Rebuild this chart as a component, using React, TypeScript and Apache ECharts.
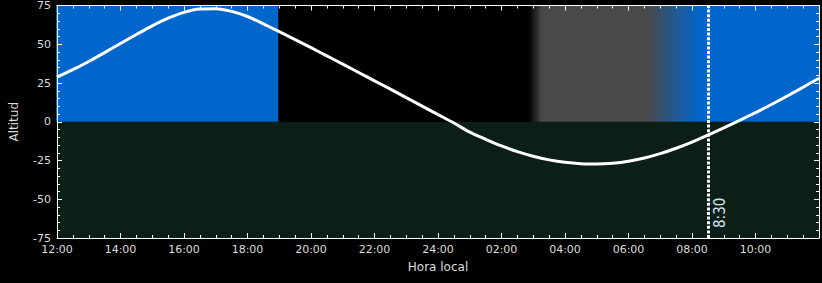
import React, { useEffect, useRef } from "react";
import * as echarts from "echarts";

// Hours elapsed since 12:00 (local time)
const hours = [
  0, 0.5, 1, 1.5, 2, 2.5, 3, 3.5, 4, 4.5, 5, 5.5, 6, 6.5, 7, 7.5, 8, 8.5, 9, 9.5,
  10, 10.5, 11, 11.5, 12, 12.5, 13, 13.5, 14, 14.5, 15, 15.5, 16, 16.5, 17, 17.5,
  18, 18.5, 19, 19.5, 20, 20.5, 21, 21.5, 22, 22.5, 23, 23.5, 24,
];
// Altitude (degrees)
const altitude = [
  28.8, 33.6, 38.9, 44.6, 50.5, 56.3, 61.9, 66.8, 70.6, 72.7, 72.9, 71.2, 67.9,
  63.2, 58.1, 53.0, 47.8, 42.5, 37.2, 31.8, 26.4, 21.0, 15.6, 10.1, 4.6, -0.8,
  -6.7, -11.3, -15.6, -19.3, -22.3, -24.6, -26.2, -27.1, -27.3, -26.8, -25.5,
  -23.4, -20.6, -17.1, -13.1, -8.7, -4.0, 0.9, 5.9, 11.1, 16.6, 22.3, 28.1,
];
const xTickLabels = [
  "12:00", "14:00", "16:00", "18:00", "20:00", "22:00", "24:00",
  "02:00", "04:00", "06:00", "08:00", "10:00",
];
// Background bands (hours since 12:00, altitude range)
const bandStart = [0, 0, 7, 14.9, 15.27, 18.6, 20.25];
const bandEnd = [24, 7, 14.9, 15.27, 18.6, 20.25, 24];
const bandLow = [-75, 0, 0, 0, 0, 0, 0];
const bandHigh = [0, 75, 75, 75, 75, 75, 75];
const bandKind = ["ground", "day", "night", "nightToTwilight", "twilight", "twilightToDay", "day"];
// Current time marker
const markerHour = 20.5;
const markerLabel = "8:30";

const BLUE = "#0066cc";
const GRAY = "#494949";
const kindFill = (kind: string): any => {
  switch (kind) {
    case "ground":
      return "#0b1f16";
    case "day":
      return BLUE;
    case "night":
      return "#000000";
    case "twilight":
      return GRAY;
    case "nightToTwilight":
      return new echarts.graphic.LinearGradient(0, 0, 1, 0, [
        { offset: 0, color: "#000000" },
        { offset: 1, color: GRAY },
      ]);
    case "twilightToDay":
      return new echarts.graphic.LinearGradient(0, 0, 1, 0, [
        { offset: 0, color: GRAY },
        { offset: 1, color: BLUE },
      ]);
  }
  return "#000";
};

export default function App() {
  const ref = useRef<HTMLDivElement>(null);
  useEffect(() => {
    if (!ref.current) return;
    const chart = echarts.init(ref.current, null, { renderer: "svg" });
    const textColor = "#dcdcdc";
    const font = "DejaVu Sans";
    const axisCommon = {
      type: "value" as const,
      z: 10,
      splitLine: { show: false },
      axisLine: { show: true, onZero: false, lineStyle: { color: "#ffffff", width: 1 } },
      axisTick: { show: true, inside: true, length: 5, lineStyle: { color: "#ffffff" } },
    };
    const bandData = bandStart.map((s, i) => [s, bandEnd[i], bandLow[i], bandHigh[i]]);
    chart.setOption({
      animation: false,
      backgroundColor: "#000000",
      grid: { left: 55, right: 3, top: 3, bottom: 45, containLabel: false },
      xAxis: [
        {
          ...axisCommon,
          position: "bottom",
          min: 0,
          max: 24,
          interval: 2,
          minorTick: { show: true, splitNumber: 4, length: 3, lineStyle: { color: "#ffffff" } },
          axisLabel: {
            color: textColor,
            fontFamily: font,
            fontSize: 11,
            margin: 6,
            showMaxLabel: false,
            formatter: (v: number) => xTickLabels[Math.round(v / 2)] ?? "",
          },
          name: "Hora local",
          nameLocation: "middle",
          nameGap: 23,
          nameTextStyle: { color: textColor, fontFamily: font, fontSize: 12 },
        },
        {
          ...axisCommon,
          position: "top",
          min: 0,
          max: 24,
          interval: 2,
          minorTick: { show: true, splitNumber: 4, length: 3, lineStyle: { color: "#ffffff" } },
          axisLabel: { show: false },
        },
      ],
      yAxis: [
        {
          ...axisCommon,
          position: "left",
          min: -75,
          max: 75,
          interval: 25,
          minorTick: { show: true, splitNumber: 5, length: 3, lineStyle: { color: "#ffffff" } },
          axisLabel: { color: textColor, fontFamily: font, fontSize: 11, margin: 6 },
          name: "Altitud",
          nameLocation: "middle",
          nameGap: 37,
          nameTextStyle: { color: textColor, fontFamily: font, fontSize: 12 },
        },
        {
          ...axisCommon,
          position: "right",
          min: -75,
          max: 75,
          interval: 25,
          minorTick: { show: true, splitNumber: 5, length: 3, lineStyle: { color: "#ffffff" } },
          axisLabel: { show: false },
        },
      ],
      series: [
        {
          type: "custom",
          z: 1,
          xAxisIndex: 0,
          yAxisIndex: 0,
          data: bandData,
          encode: { x: [0, 1], y: [2, 3] },
          renderItem: (params: any, api: any) => {
            const p0 = api.coord([api.value(0), api.value(3)]);
            const p1 = api.coord([api.value(1), api.value(2)]);
            const overlap = params.dataIndex > 0 ? 1 : 0;
            return {
              type: "rect",
              shape: {
                x: p0[0] - overlap,
                y: p0[1],
                width: p1[0] - p0[0] + overlap,
                height: p1[1] - p0[1],
              },
              style: { fill: kindFill(bandKind[params.dataIndex]) },
            };
          },
          silent: true,
        },
        {
          type: "line",
          z: 5,
          xAxisIndex: 0,
          yAxisIndex: 0,
          data: hours.map((h, i) => [h, altitude[i]]),
          smooth: 0.3,
          showSymbol: false,
          symbol: "none",
          lineStyle: { color: "#ffffff", width: 3 },
          markLine: {
            silent: true,
            symbol: "none",
            lineStyle: { color: "#ffffff", width: 3, type: [3, 1.6] },
            label: {
              show: true,
              formatter: markerLabel,
              position: "insideStartBottom",
              distance: [10, 5],
              color: "#d6e2ee",
              fontFamily: "Liberation Sans Narrow, DejaVu Sans Condensed, sans-serif",
              fontSize: 15,
            },
            data: [{ xAxis: markerHour }],
          },
        },
      ],
    });
    return () => chart.dispose();
  }, []);
  return (
    <div
      ref={ref}
      style={{ position: "fixed", left: 0, top: 0, width: 822, height: 283, background: "#000" }}
    />
  );
}
